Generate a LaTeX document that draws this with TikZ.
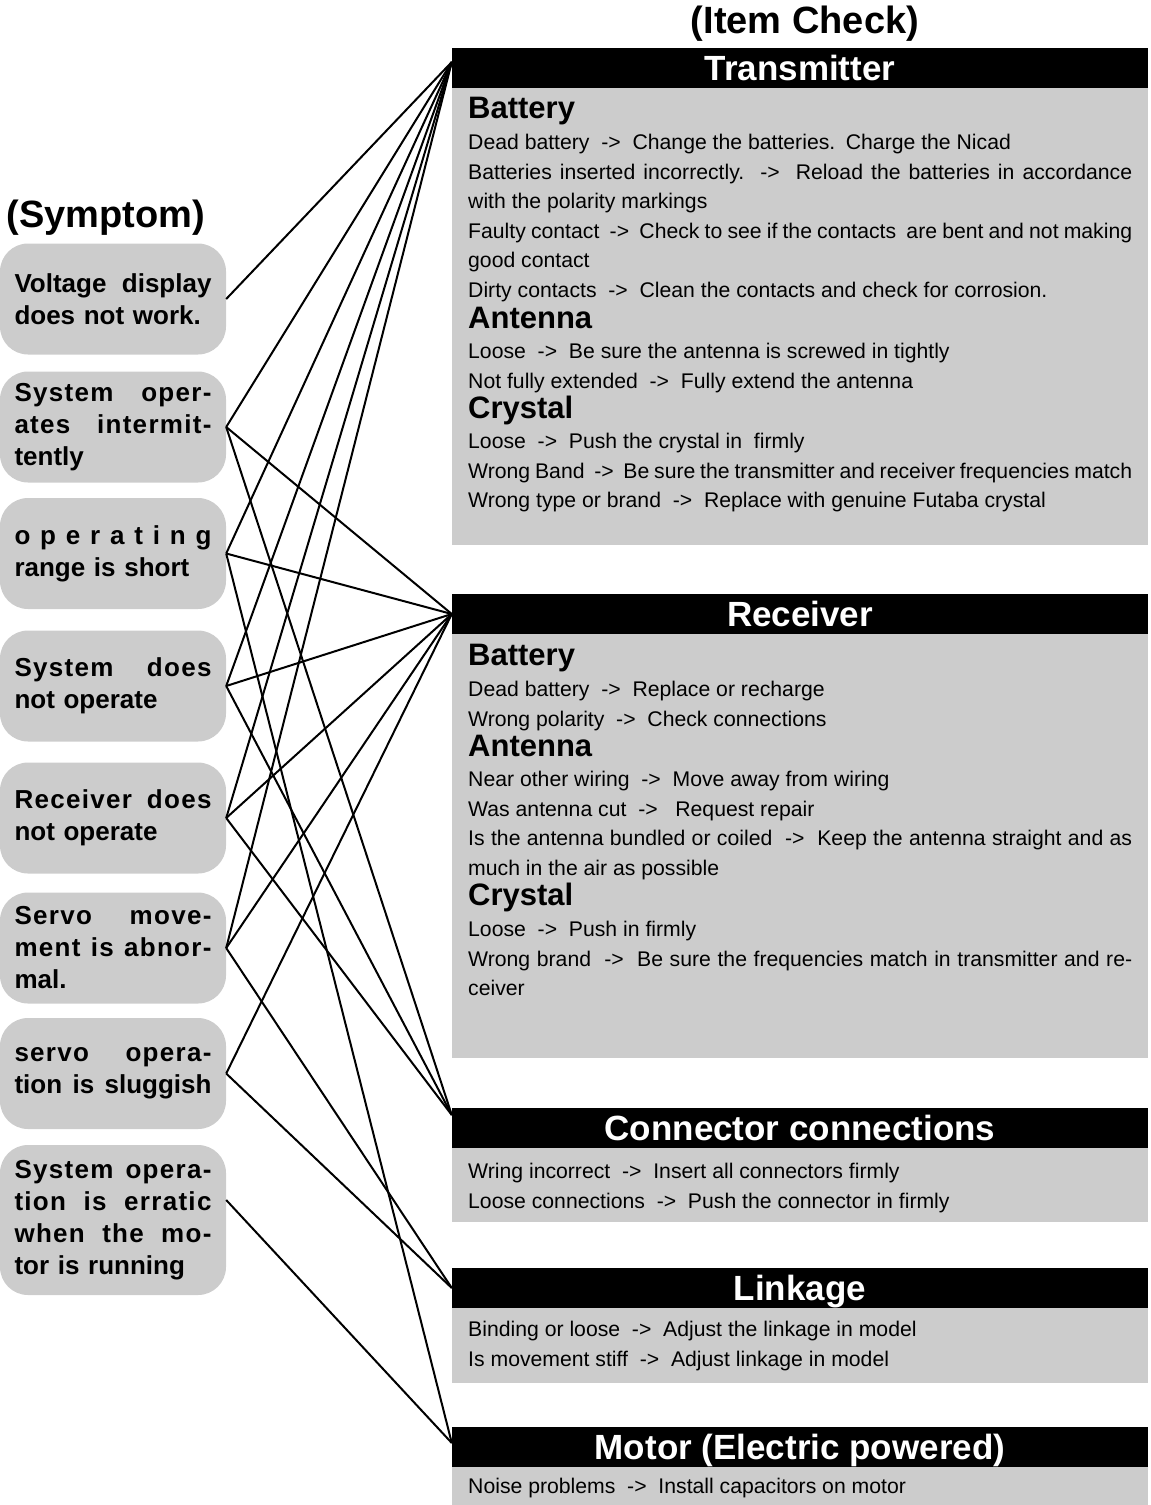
\documentclass[tikz,border=0pt]{standalone}
\usepackage{fontspec}
\setmainfont{Liberation Sans}
\usetikzlibrary{positioning}
\definecolor{panelgray}{RGB}{204,204,204}
\newcommand{\arr}{\ \ ->\ \ }
\newcommand{\fullline}[1]{\makebox[664pt][s]{\spaceskip=0.278em plus 1em minus 0.1em\relax #1}}
\newcommand{\justline}[1]{\makebox[\linewidth][s]{\spaceskip=0.278em plus 1em\relax #1}}
\newcommand{\spreadline}[1]{\makebox[\linewidth][s]{\addfontfeatures{LetterSpace=5}%
    \spaceskip=0.278em plus 1em minus 0.1em\relax #1}}

\begin{document}
\begin{tikzpicture}[x=1pt, y=-1pt,
    symptom/.style={rectangle, rounded corners=28pt, fill=panelgray, minimum width=226pt,
        minimum height=111pt, text width=197pt, inner xsep=14.5pt, inner ysep=6pt,
        align=left, font=\bfseries\fontsize{26}{32}\selectfont},
    header/.style={rectangle, fill=black, text=white, minimum width=696pt, minimum height=40pt,
        inner sep=0pt, text height=25pt, text depth=0pt, font=\bfseries\fontsize{35}{40}\selectfont},
    title/.style={inner sep=0pt, font=\bfseries\fontsize{38}{44}\selectfont},
    subhead/.style={anchor=base west, inner sep=0pt, font=\bfseries\fontsize{31}{36}\selectfont},
    body/.style={anchor=base west, inner sep=0pt, text width=680pt, align=left,
        font=\fontsize{21.2}{29.6}\selectfont, execute at begin node={\spaceskip=0.278em\relax}},
    link/.style={line width=2pt},
]
    \useasboundingbox (0,0) rectangle (1151,1505);

    % Titles
    \node[title] (symtitle) at (106,218) {(Symptom)};
    \node[title] (itemtitle) at (805,24) {(Item Check)};

    % Symptoms
    \node[symptom] (s1) at (113,299) {\justline{Voltage display}\\ does not work.};
    \node[symptom] (s2) at (113,427) {\spreadline{System oper-}\\ \spreadline{ates intermit-}\\ tently};
    \node[symptom] (s3) at (113,553.5) {\justline{o p e r a t i n g}\\ range is short};
    \node[symptom] (s4) at (113,686) {\spreadline{System does}\\ not operate};
    \node[symptom] (s5) at (113,818) {\spreadline{Receiver does}\\ not operate};
    \node[symptom] (s6) at (113,948) {\spreadline{Servo move-}\\ \spreadline{ment is abnor-}\\ mal.};
    \node[symptom] (s7) at (113,1073.5) {\spreadline{servo opera-}\\ \justline{tion is sluggish}};
    \node[symptom, minimum height=150pt] (s8) at (113,1220)
        {\spreadline{System opera-}\\ \spreadline{tion is erratic}\\ \spreadline{when the mo-}\\ tor is running};
    \coordinate (s8out) at ([yshift=20pt]s8.east);

    % Item panels
    \fill[panelgray] (452,88) rectangle (1148,545);
    \fill[panelgray] (452,634) rectangle (1148,1058);
    \fill[panelgray] (452,1148) rectangle (1148,1222);
    \fill[panelgray] (452,1308) rectangle (1148,1383);
    \fill[panelgray] (452,1467) rectangle (1148,1505);

    \node[header] (tx) at (800,68) {Transmitter};
    \node[header] (rx) at (800,614) {Receiver};
    \node[header] (cn) at (800,1128) {Connector connections};
    \node[header] (lk) at (800,1288) {Linkage};
    \node[header] (mt) at (800,1447) {Motor (Electric powered)};

    % Transmitter checks
    \node[subhead] (txbat) at (468,118) {Battery};
    \node[body] (txbattxt) at (468,149.5) {Dead battery\arr Change the batteries. Charge the Nicad\\
        \fullline{Batteries inserted incorrectly.\arr Reload the batteries in accordance}\\
        with the polarity markings\\
        \fullline{Faulty contact\arr Check to see if the contacts\ \ are bent and not making}\\
        good contact\\
        Dirty contacts\arr Clean the contacts and check for corrosion.};
    \node[subhead] (txant) at (468,328) {Antenna};
    \node[body] (txanttxt) at (468,358.5) {Loose\arr Be sure the antenna is screwed in tightly\\
        Not fully extended\arr Fully extend the antenna};
    \node[subhead] (txxtal) at (468,418) {Crystal};
    \node[body] (txxtaltxt) at (468,448.5) {Loose\arr Push the crystal in\ \ firmly\\
        \fullline{Wrong Band\arr Be sure the transmitter and receiver frequencies match}\\
        Wrong type or brand\arr Replace with genuine Futaba crystal};

    % Receiver checks
    \node[subhead] (rxbat) at (468,665) {Battery};
    \node[body] (rxbattxt) at (468,696.5) {Dead battery\arr Replace or recharge\\
        Wrong polarity\arr Check connections};
    \node[subhead] (rxant) at (468,756) {Antenna};
    \node[body] (rxanttxt) at (468,786.5) {Near other wiring\arr Move away from wiring\\
        Was antenna cut\arr\ Request repair\\
        \fullline{Is the antenna bundled or coiled\arr Keep the antenna straight and as}\\
        much in the air as possible};
    \node[subhead] (rxxtal) at (468,905) {Crystal};
    \node[body] (rxxtaltxt) at (468,936.5) {Loose\arr Push in firmly\\
        \fullline{Wrong brand\arr Be sure the frequencies match in transmitter and re-}\\
        ceiver};

    % Other checks
    \node[body] (cntxt) at (468,1178.5) {Wring incorrect\arr Insert all connectors firmly\\
        Loose connections\arr Push the connector in firmly};
    \node[body] (lktxt) at (468,1336.5) {Binding or loose\arr Adjust the linkage in model\\
        Is movement stiff\arr Adjust linkage in model};
    \node[body] (mttxt) at (468,1493.5) {Noise problems\arr Install capacitors on motor};

    % Connection points
    \coordinate (txin) at ([yshift=6pt]tx.west);
    \coordinate (rxin) at (rx.west);
    \coordinate (cnin) at ([yshift=13pt]cn.west);
    \coordinate (lkin) at (lk.west);
    \coordinate (mtin) at ([yshift=4pt]mt.west);

    \foreach \src/\dst in {s1.east/txin, s2.east/txin, s2.east/rxin, s2.east/cnin,
        s3.east/txin, s3.east/rxin, s3.east/mtin, s4.east/txin, s4.east/rxin, s4.east/cnin,
        s5.east/txin, s5.east/rxin, s5.east/cnin, s6.east/txin, s6.east/rxin, s6.east/lkin,
        s7.east/rxin, s7.east/lkin, s8out/mtin}
    {
        \draw[link] (\src) -- (\dst);
    }
\end{tikzpicture}
\end{document}
